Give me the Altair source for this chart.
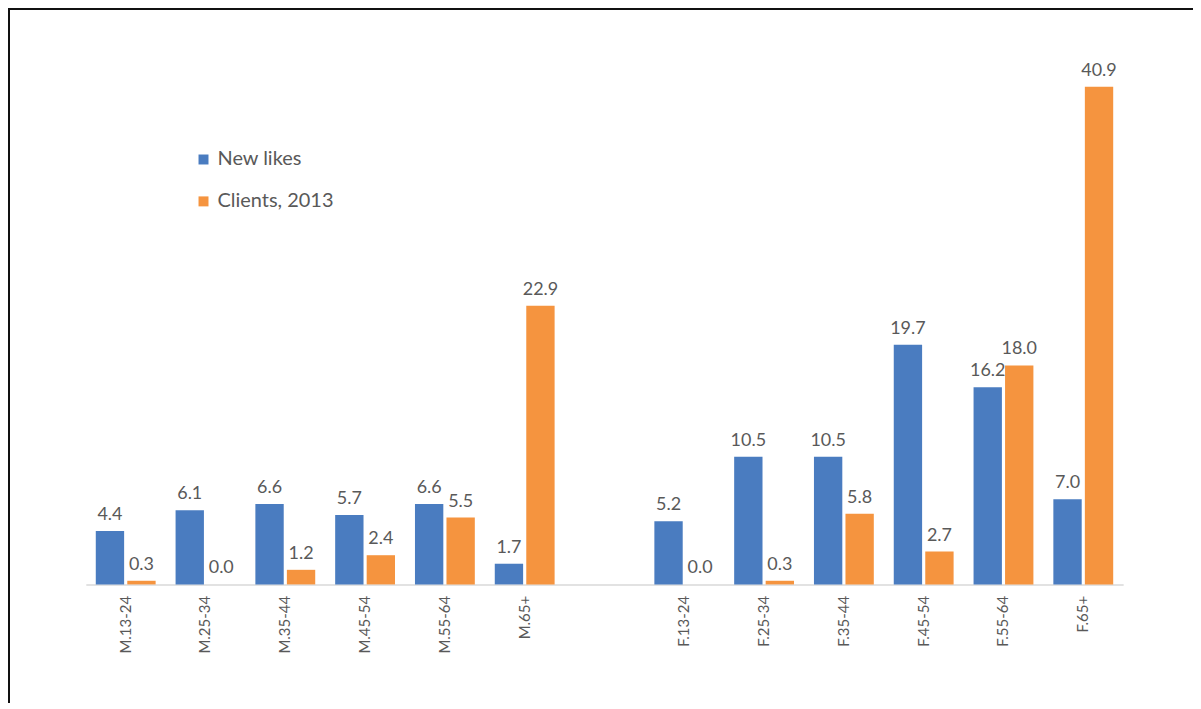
import altair as alt
import pandas as pd

categories = ["M.13-24", "M.25-34", "M.35-44", "M.45-54", "M.55-64", "M.65+",
              "F.13-24", "F.25-34", "F.35-44", "F.45-54", "F.55-64", "F.65+"]
axis_domain = ["M.13-24", "M.25-34", "M.35-44", "M.45-54", "M.55-64", "M.65+", " ",
               "F.13-24", "F.25-34", "F.35-44", "F.45-54", "F.55-64", "F.65+"]
new_likes = [4.4, 6.1, 6.6, 5.7, 6.6, 1.7, 5.2, 10.5, 10.5, 19.7, 16.2, 7.0]
clients_2013 = [0.3, 0.0, 1.2, 2.4, 5.5, 22.9, 0.0, 0.3, 5.8, 2.7, 18.0, 40.9]
series = ["New likes", "Clients, 2013"]
colors = ["#4A7CC0", "#F5943F"]

rows = []
for c, a, b in zip(categories, new_likes, clients_2013):
    rows.append({"group": c, "series": series[0], "value": a})
    rows.append({"group": c, "series": series[1], "value": b})
df = pd.DataFrame(rows)

FONT = "Lato"
GRAY = "#595959"

x_enc = alt.X("group:N", sort=axis_domain,
              scale=alt.Scale(domain=axis_domain, paddingInner=0.25, paddingOuter=0.125),
              axis=alt.Axis(title=None, labelAngle=-90, labelFontSize=15, labelColor=GRAY,
                            labelFont=FONT, ticks=False, domainColor="#D9D9D9",
                            labelPadding=11, domainWidth=1.5))
xoff = alt.XOffset("series:N", sort=series, scale=alt.Scale(domain=series, paddingInner=0.1))
y_enc = alt.Y("value:Q", scale=alt.Scale(domain=[0, 45], nice=False), axis=None)

base = alt.Chart(df).encode(x=x_enc, xOffset=xoff, y=y_enc)

bars = base.mark_bar().encode(
    color=alt.Color("series:N", sort=series,
                    scale=alt.Scale(domain=series, range=colors),
                    legend=alt.Legend(title=None, orient="none", legendX=108, legendY=113,
                                      symbolType="square", symbolSize=100,
                                      symbolStrokeWidth=0, labelFontSize=20,
                                      labelColor=GRAY, labelFont=FONT, rowPadding=22,
                                      labelOffset=4))
)

labels = base.mark_text(baseline="bottom", dy=-7, fontSize=18, color=GRAY, font=FONT).encode(
    text=alt.Text("value:Q", format=".1f")
)

frame_left = alt.Chart(df).mark_rule(color="#111111", strokeWidth=2).encode(
    x=alt.value(-77), y=alt.value(-28), y2=alt.value(700)
)
frame_top = alt.Chart(df).mark_rule(color="#111111", strokeWidth=2.5).encode(
    x=alt.value(-78), x2=alt.value(1120), y=alt.value(-28)
)

chart = alt.layer(bars, labels, frame_left, frame_top).properties(
    width=1040, height=549,
    autosize=alt.AutoSizeParams(type="none"),
    padding={"left": 78, "top": 28, "right": 70, "bottom": 118},
    background="white",
).configure_view(stroke=None)

chart.save("out.html", embed_options={"renderer": "svg", "actions": False})
